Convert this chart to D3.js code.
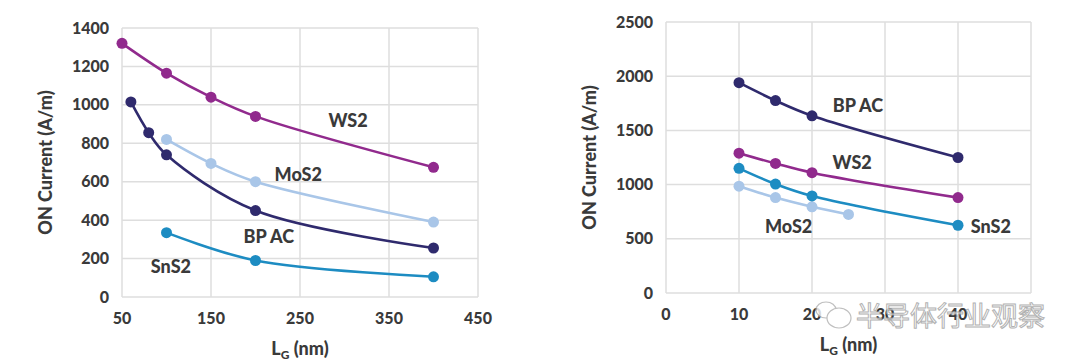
<!DOCTYPE html>
<html lang="en">
<head>
    <meta charset="UTF-8">
    <title>ON Current vs Gate Length</title>
    <script src="https://d3js.org/d3.v7.min.js"></script>
    <style>
        body {
            margin: 0;
            background: #ffffff;
        }
        svg {
            display: block;
            font-family: "Lato", "Open Sans", sans-serif;
        }
        .grid line {
            stroke: #dedede;
            stroke-width: 1.5;
        }
        .tick-label {
            font-size: 16px;
            font-weight: 900;
            fill: #3a3a3a;
        }
        .axis-title {
            font-size: 18px;
            font-weight: 900;
            fill: #3a3a3a;
        }
        .series-label {
            font-size: 18px;
            font-weight: 900;
            fill: #3a3a3a;
        }
        .line {
            fill: none;
            stroke-width: 2.6;
        }
    </style>
</head>
<body>

<svg id="chart"></svg>

<script>
    const width = 1080;
    const height = 364;

    // left panel: long-channel data
    const leftXTicks = [50, 150, 250, 350, 450];
    const leftYTicks = [0, 200, 400, 600, 800, 1000, 1200, 1400];
    const leftWS2 = [[50, 1320], [100, 1165], [150, 1040], [200, 940], [400, 675]];
    const leftBPAC = [[60, 1015], [80, 855], [100, 740], [200, 450], [400, 255]];
    const leftMoS2 = [[100, 820], [150, 695], [200, 600], [400, 390]];
    const leftSnS2 = [[100, 335], [200, 190], [400, 105]];

    // right panel: short-channel data
    const rightXTicks = [0, 10, 20, 30, 40, 50];
    const rightXLabels = ["0", "10", "20", "30", "40", ""];
    const rightYTicks = [0, 500, 1000, 1500, 2000, 2500];
    const rightBPAC = [[10, 1940], [15, 1775], [20, 1635], [40, 1250]];
    const rightWS2 = [[10, 1290], [15, 1195], [20, 1110], [40, 880]];
    const rightSnS2 = [[10, 1150], [15, 1005], [20, 895], [40, 625]];
    const rightMoS2 = [[10, 985], [15, 880], [20, 795], [25, 725]];

    const colors = {
        WS2: "#912a8d",
        BPAC: "#2f2a6d",
        MoS2: "#a9c6e8",
        SnS2: "#1d8cc2"
    };

    const svg = d3.select("#chart")
        .attr("width", width)
        .attr("height", height);

    function drawPanel(cfg) {
        const x = d3.scaleLinear().domain(cfg.xDomain).range([cfg.left, cfg.right]);
        const y = d3.scaleLinear().domain(cfg.yDomain).range([cfg.bottom, cfg.top]);
        const g = svg.append("g");

        // grid
        const grid = g.append("g").attr("class", "grid");
        grid.selectAll(".h").data(cfg.yTicks).enter().append("line")
            .attr("x1", cfg.left).attr("x2", cfg.right)
            .attr("y1", d => y(d)).attr("y2", d => y(d));
        grid.selectAll(".v").data(cfg.xTicks).enter().append("line")
            .attr("x1", d => x(d)).attr("x2", d => x(d))
            .attr("y1", cfg.top).attr("y2", cfg.bottom);

        // tick labels
        g.selectAll(".ylab").data(cfg.yTicks).enter().append("text")
            .attr("class", "tick-label")
            .attr("x", cfg.left - 13)
            .attr("y", d => y(d))
            .attr("dy", "0.35em")
            .attr("text-anchor", "end")
            .text(d => d);
        g.selectAll(".xlab").data(cfg.xTicks).enter().append("text")
            .attr("class", "tick-label")
            .attr("x", d => x(d))
            .attr("y", cfg.bottom + 27)
            .attr("text-anchor", "middle")
            .text((d, i) => cfg.xLabels ? cfg.xLabels[i] : d);

        // axis titles
        g.append("text")
            .attr("class", "axis-title")
            .attr("transform", `translate(${cfg.left - 76},${(cfg.top + cfg.bottom) / 2}) rotate(-90)`)
            .attr("text-anchor", "middle")
            .attr("dy", "0.35em")
            .text("ON Current (A/m)");
        const xt = g.append("text")
            .attr("class", "axis-title")
            .attr("x", (cfg.left + cfg.right) / 2)
            .attr("y", cfg.bottom + 58)
            .attr("text-anchor", "middle");
        xt.append("tspan").text("L");
        xt.append("tspan").attr("font-size", "12px").attr("dy", 4).text("G");
        xt.append("tspan").attr("dy", -4).text(" (nm)");

        const line = d3.line()
            .x(d => x(d[0]))
            .y(d => y(d[1]))
            .curve(d3.curveCatmullRom.alpha(0.5));

        cfg.series.forEach(s => {
            g.append("path")
                .attr("class", "line")
                .attr("d", line(s.values))
                .attr("stroke", s.color);
            g.selectAll(null).data(s.values).enter().append("circle")
                .attr("cx", d => x(d[0]))
                .attr("cy", d => y(d[1]))
                .attr("r", 5.5)
                .attr("fill", s.color);
            g.append("text")
                .attr("class", "series-label")
                .attr("x", x(s.labelAt[0]))
                .attr("y", y(s.labelAt[1]))
                .attr("dy", "0.35em")
                .attr("text-anchor", "middle")
                .text(s.name);
        });
        return { x, y };
    }

    drawPanel({
        left: 122, right: 478, top: 28, bottom: 297,
        xDomain: [50, 450], yDomain: [0, 1400],
        xTicks: leftXTicks, yTicks: leftYTicks,
        series: [
            { name: "WS2", values: leftWS2, color: colors.WS2, labelAt: [304, 920] },
            { name: "MoS2", values: leftMoS2, color: colors.MoS2, labelAt: [248, 635] },
            { name: "BP AC", values: leftBPAC, color: colors.BPAC, labelAt: [215, 312] },
            { name: "SnS2", values: leftSnS2, color: colors.SnS2, labelAt: [105, 156] }
        ]
    });

    drawPanel({
        left: 666, right: 1031, top: 22, bottom: 293,
        xDomain: [0, 50], yDomain: [0, 2500],
        xTicks: rightXTicks, xLabels: rightXLabels, yTicks: rightYTicks,
        series: [
            { name: "BP AC", values: rightBPAC, color: colors.BPAC, labelAt: [26.3, 1725] },
            { name: "WS2", values: rightWS2, color: colors.WS2, labelAt: [25.5, 1200] },
            { name: "MoS2", values: rightMoS2, color: colors.MoS2, labelAt: [16.8, 610] },
            { name: "SnS2", values: rightSnS2, color: colors.SnS2, labelAt: [44.5, 610] }
        ]
    });

    // watermark
    const wm = svg.append("g").attr("opacity", 0.8);
    wm.append("ellipse").attr("cx", 826).attr("cy", 310).attr("rx", 10).attr("ry", 8)
        .attr("fill", "#ffffff").attr("stroke", "#b0b0b0").attr("stroke-width", 1.2);
    wm.append("ellipse").attr("cx", 839).attr("cy", 318).attr("rx", 12).attr("ry", 10)
        .attr("fill", "#ffffff").attr("stroke", "#b0b0b0").attr("stroke-width", 1.2);
    wm.append("text")
        .attr("x", 856).attr("y", 326)
        .attr("font-family", "Noto Sans CJK SC")
        .attr("font-size", "27px")
        .attr("fill", "#ffffff")
        .attr("stroke", "#a0a0a0")
        .attr("stroke-width", 1)
        .text("半导体行业观察");
</script>

</body>
</html>
